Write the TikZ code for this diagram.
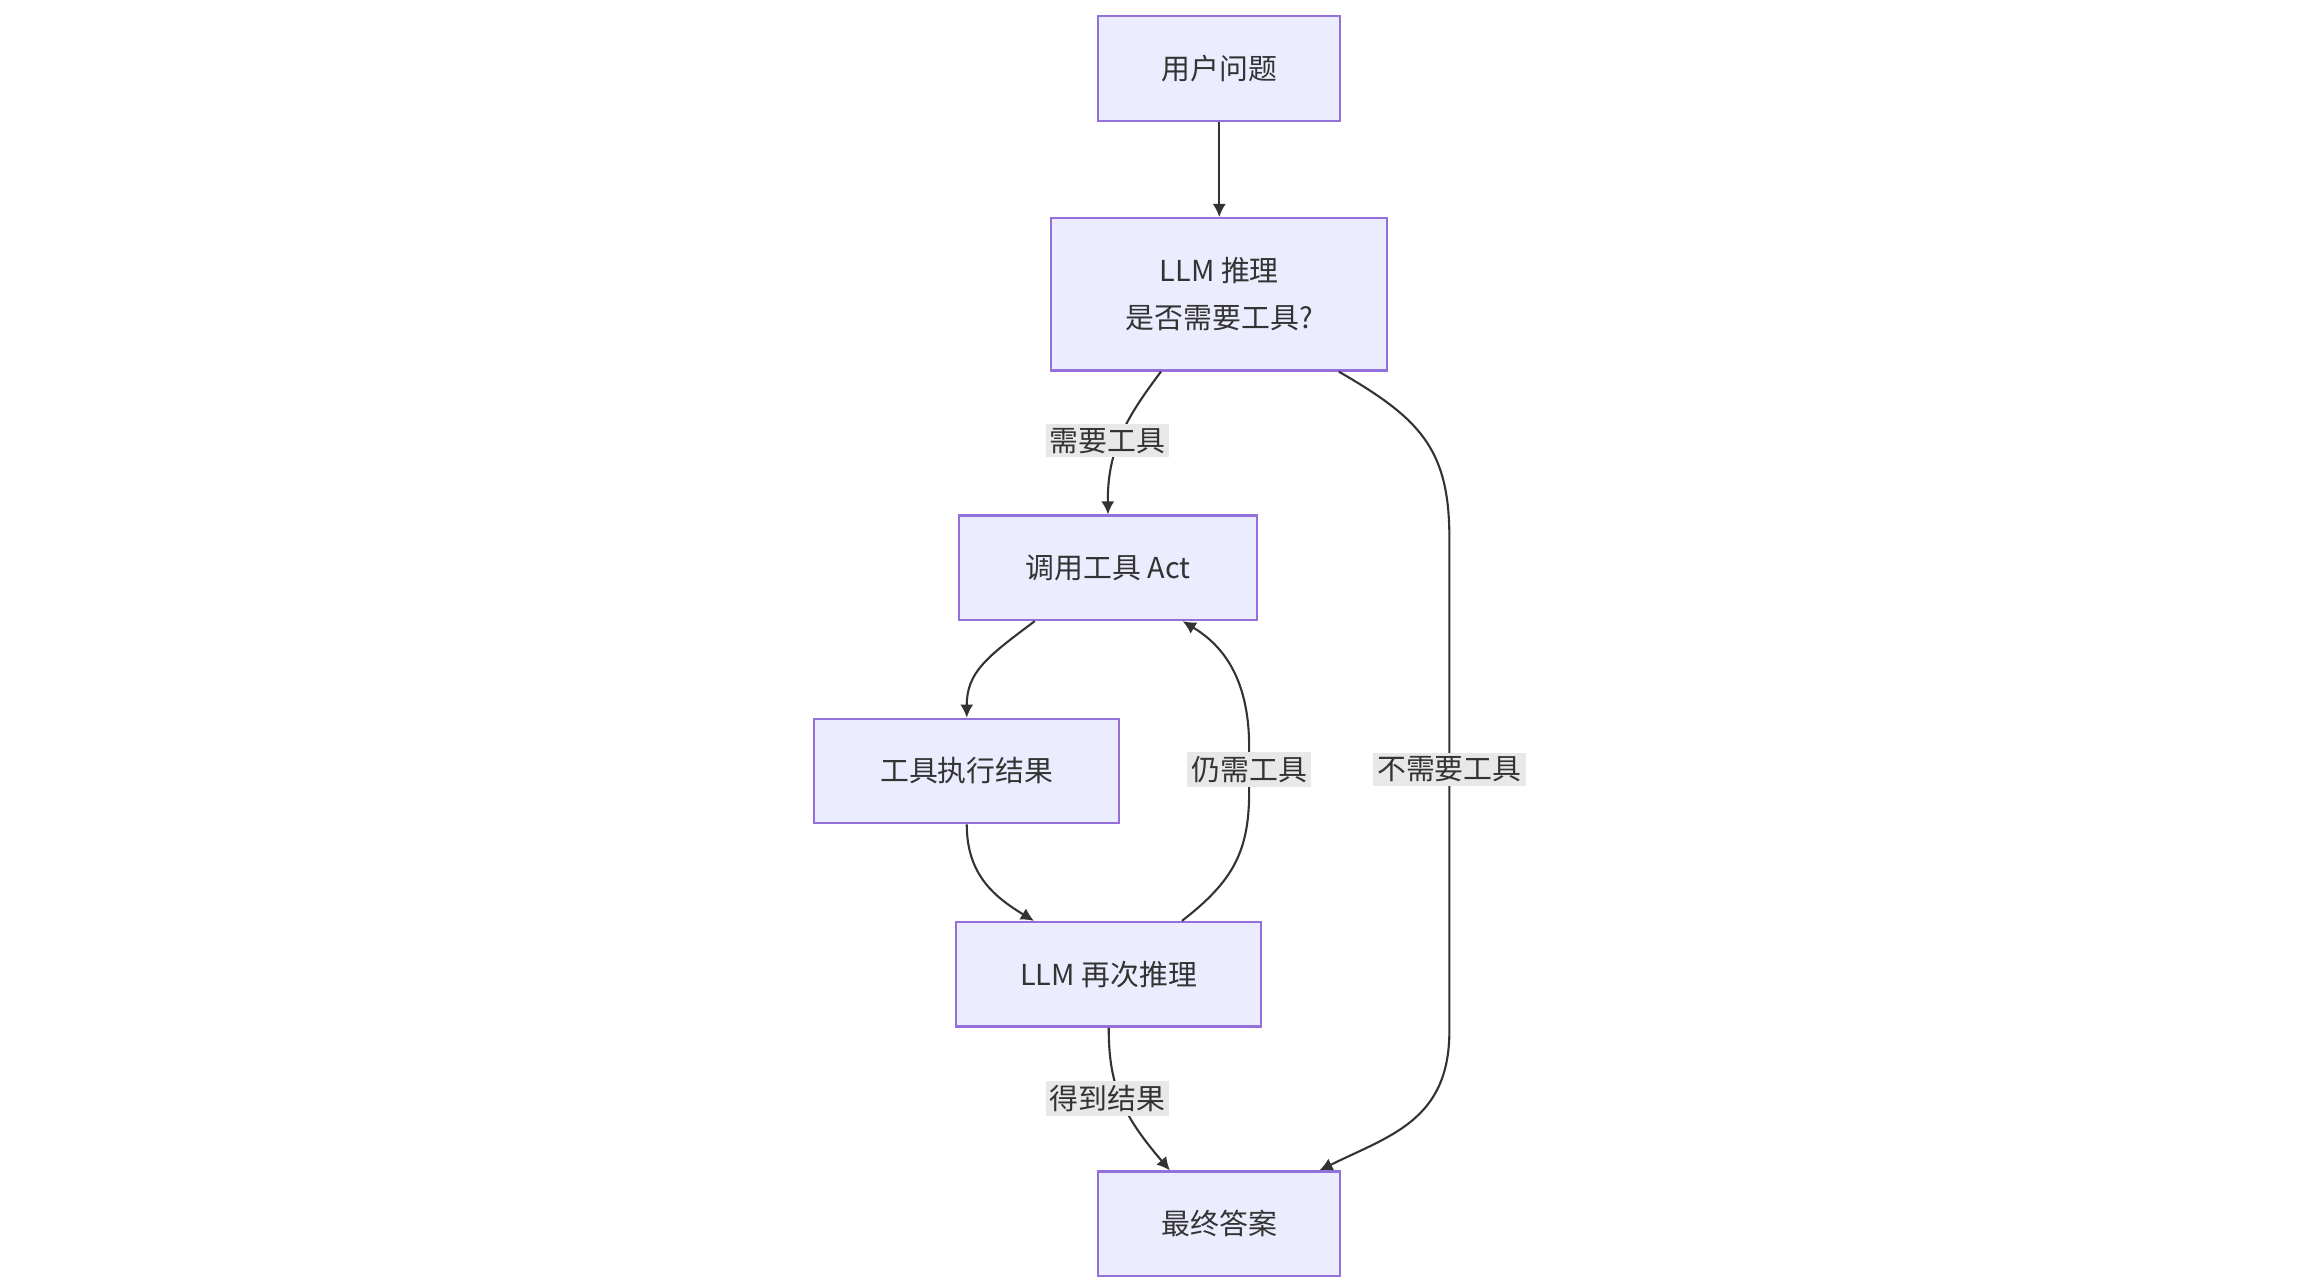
\documentclass[tikz,border=0pt]{standalone}
\usepackage{fontspec}
\setmainfont{Noto Sans CJK SC}
\usetikzlibrary{arrows.meta}
\definecolor{nfill}{HTML}{ECECFF}
\definecolor{nbord}{HTML}{9370DB}
\definecolor{edge}{HTML}{333333}
\definecolor{lbl}{HTML}{E8E8E8}
\begin{document}
\begin{tikzpicture}[x=0.02cm,y=-0.02cm,
  box/.style={draw=nbord,fill=nfill,line width=0.8pt,minimum height=1.4cm,align=center,font=\fontsize{11}{18}\selectfont,text=edge},
  lab/.style={fill=lbl,inner sep=1.5pt,font=\fontsize{11}{14}\selectfont,text=edge},
  ar/.style={draw=edge,line width=0.8pt,-{Latex[length=5pt,width=5pt]}}]
\useasboundingbox (0,0) rectangle (1550,855);
\node[box,minimum width=3.24cm] (a) at (816,46) {用户问题};
\node[box,minimum width=4.5cm,minimum height=2.04cm] (b) at (816,197) {LLM 推理\\是否需要工具?};
\node[box,minimum width=3.98cm] (c) at (741.5,380) {调用工具 Act};
\node[box,minimum width=4.08cm] (d) at (647,516) {工具执行结果};
\node[box,minimum width=4.08cm] (e) at (742,652) {LLM 再次推理};
\node[box,minimum width=3.24cm] (f) at (816,819) {最终答案};
\draw[ar] (a) -- (b);
\draw[ar] (b.south) ++(-39,0) coordinate (b1) .. controls (755,278) and (741,300) .. (c.north);
\node[lab] at (741,295) {需要工具};
\draw[ar] (b.south) ++(80,0) coordinate (b2) .. controls (950,280) and (970,300) .. (970,360) -- (970,690) .. controls (970,750) and (930,760) .. ([xshift=67pt*0+67*0.02cm]f.north);
\node[lab] at (970,515) {不需要工具};
\draw[ar] ([xshift=-49*0.02cm]c.south) .. controls (660,440) and (647,450) .. (d.north);
\draw[ar] (d.south) .. controls (647,585) and (665,600) .. ([xshift=-50*0.02cm]e.north);
\draw[ar] ([xshift=49*0.02cm]e.north) .. controls (825,590) and (836,570) .. (836,530) -- (836,500) .. controls (836,450) and (815,430) .. ([xshift=50*0.02cm]c.south);
\node[lab] at (836,515) {仍需工具};
\draw[ar] (e.south) .. controls (742,725) and (750,745) .. ([xshift=-33*0.02cm]f.north);
\node[lab] at (741,735) {得到结果};
\end{tikzpicture}
\end{document}
